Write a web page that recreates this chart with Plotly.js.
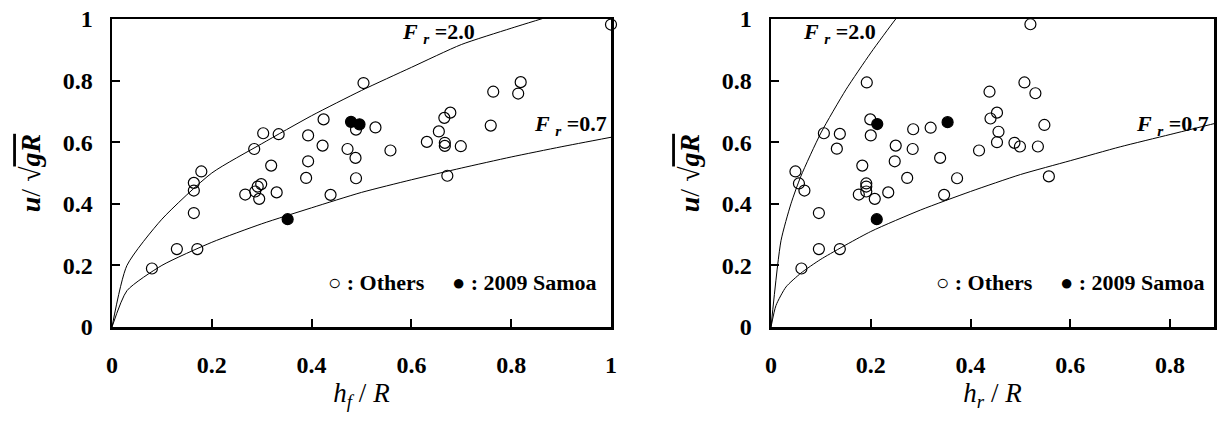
<!DOCTYPE html>
<html>
<head>
<meta charset="utf-8">
<script src="https://cdn.plot.ly/plotly-3.0.1.min.js"></script>
<style>html,body{margin:0;padding:0;background:#fff;overflow:hidden;}#chart{width:1221px;height:421px;overflow:hidden;}</style>
</head>
<body>
<div id="chart"></div>
<script>
// ---- data ----
const leftOthersX = [0.080,0.130,0.171,0.164,0.164,0.164,0.179,0.267,0.287,0.292,0.299,0.295,0.285,0.303,0.334,0.319,0.330,0.393,0.393,0.389,0.424,0.422,0.438,0.472,0.488,0.489,0.489,0.504,0.528,0.558,0.631,0.655,0.666,0.678,0.667,0.667,0.699,0.672,0.759,0.764,0.814,0.819,1.000];
const leftOthersY = [0.190,0.253,0.253,0.370,0.443,0.468,0.505,0.430,0.440,0.456,0.464,0.416,0.578,0.629,0.626,0.524,0.437,0.622,0.538,0.484,0.674,0.589,0.429,0.578,0.549,0.483,0.641,0.792,0.648,0.573,0.601,0.635,0.679,0.696,0.598,0.588,0.587,0.491,0.654,0.764,0.758,0.795,0.982];
const leftSamoaX = [0.479,0.496,0.352];
const leftSamoaY = [0.666,0.658,0.350];

const rightOthersX = [0.061,0.049,0.056,0.067,0.096,0.096,0.138,0.106,0.138,0.132,0.192,0.199,0.200,0.183,0.176,0.191,0.191,0.191,0.208,0.235,0.248,0.250,0.273,0.285,0.284,0.320,0.339,0.347,0.373,0.417,0.438,0.440,0.453,0.456,0.453,0.488,0.499,0.508,0.520,0.530,0.535,0.548,0.557];
const rightOthersY = [0.190,0.505,0.466,0.443,0.370,0.253,0.253,0.629,0.627,0.579,0.794,0.674,0.622,0.524,0.430,0.466,0.456,0.440,0.416,0.437,0.538,0.589,0.484,0.642,0.578,0.647,0.549,0.429,0.483,0.573,0.764,0.677,0.696,0.634,0.600,0.598,0.586,0.794,0.983,0.759,0.586,0.656,0.489];
const rightSamoaX = [0.213,0.354,0.212];
const rightSamoaY = [0.659,0.665,0.350];

const fr20LeftX = [0,0.03,0.1,0.2,0.3,0.4,0.5,0.6,0.7,0.8,0.9];
const fr20LeftY = [0,0.20,0.35,0.50,0.595,0.686,0.768,0.843,0.917,0.97,1.02];
const fr07LeftX = [0,0.03,0.1,0.2,0.3,0.4,0.5,0.6,0.7,0.8,0.9,1.0];
const fr07LeftY = [0,0.118,0.20,0.275,0.335,0.387,0.437,0.478,0.516,0.552,0.585,0.616];

const fr20RightX = [0,0.02,0.04,0.06,0.1,0.15,0.2,0.25,0.3];
const fr20RightY = [0,0.28,0.40,0.49,0.63,0.77,0.89,1.0,1.1];
const fr07RightX = [0,0.01,0.03,0.06,0.1,0.2,0.3,0.4,0.5,0.6,0.7,0.8,0.9];
const fr07RightY = [0,0.07,0.13,0.175,0.22,0.31,0.38,0.44,0.495,0.54,0.585,0.625,0.665];

const legendText = '○ : Others     ● : 2009 Samoa';
const fr20Label = '<i>F</i> <sub><i>r</i></sub> =2.0';
const fr07Label = '<i>F</i> <sub><i>r</i></sub> =0.7';
const yTitle = '<b><i>u</i></b>/ √<span style="text-decoration:overline"><b><i>gR</i></b></span>';
const xTitleLeft = '<i>h</i><sub><i>f</i></sub> / <i>R</i>';
const xTitleRight = '<i>h</i><sub><i>r</i></sub> / <i>R</i>';

// ---- chart ----
const SERIF = '"Liberation Serif", "Times New Roman", serif';
function curve(x, y, xa, ya) {
  return {x: x, y: y, xaxis: xa, yaxis: ya, type: 'scatter', mode: 'lines',
    line: {color: '#000', width: 1, shape: 'spline', smoothing: 0.6}, hoverinfo: 'skip', showlegend: false};
}
function pts(x, y, xa, ya, filled) {
  return {x: x, y: y, xaxis: xa, yaxis: ya, type: 'scatter', mode: 'markers', cliponaxis: false,
    marker: {symbol: filled ? 'circle' : 'circle-open', size: 11, color: '#000', line: {color: '#000', width: 1.2}},
    showlegend: false};
}
const traces = [
  curve(fr20LeftX, fr20LeftY, 'x', 'y'),
  curve(fr07LeftX, fr07LeftY, 'x', 'y'),
  pts(leftOthersX, leftOthersY, 'x', 'y', false),
  pts(leftSamoaX, leftSamoaY, 'x', 'y', true),
  curve(fr20RightX, fr20RightY, 'x2', 'y2'),
  curve(fr07RightX, fr07RightY, 'x2', 'y2'),
  pts(rightOthersX, rightOthersY, 'x2', 'y2', false),
  pts(rightSamoaX, rightSamoaY, 'x2', 'y2', true)
];

const tickFont = {family: SERIF, size: 24, color: '#000', weight: 'bold'};
function xaxis(domain, range, title, anchor) {
  return {domain: domain, range: range, anchor: anchor, dtick: 0.2, tick0: 0,
    ticks: 'inside', ticklen: 8, tickwidth: 2, tickcolor: '#000',
    showline: true, mirror: true, linecolor: '#000', linewidth: 2.5, showgrid: false, zeroline: false,
    tickfont: tickFont, ticklabelstandoff: 15, automargin: false,
    title: {text: title, font: {family: SERIF, size: 27, color: '#000'}, standoff: 6}};
}
function yaxis(domain, title, anchor) {
  return {domain: domain, range: [0, 1], anchor: anchor, dtick: 0.2, tick0: 0,
    ticks: 'inside', ticklen: 8, tickwidth: 2, tickcolor: '#000',
    showline: true, mirror: true, linecolor: '#000', linewidth: 2.5, showgrid: false, zeroline: false,
    tickfont: tickFont, ticklabelstandoff: 12, automargin: false,
    title: {text: title, font: {family: SERIF, size: 28, color: '#000'}, standoff: 14}};
}
const yDom = [94/421, 402/421];
const layout = {
  width: 1221, height: 421,
  margin: {l: 0, r: 0, t: 0, b: 0},
  paper_bgcolor: '#fff', plot_bgcolor: '#fff',
  showlegend: false,
  xaxis: xaxis([112/1221, 611/1221], [0, 1], xTitleLeft, 'y'),
  yaxis: yaxis(yDom, yTitle, 'x'),
  xaxis2: xaxis([771/1221, 1214/1221], [0, 0.888], xTitleRight, 'y2'),
  yaxis2: yaxis(yDom, yTitle, 'x2'),
  annotations: [
    {xref: 'x', yref: 'y', x: 0.655, y: 0.955, text: fr20Label, showarrow: false, font: {family: SERIF, size: 22, color: '#000', weight: 'bold'}},
    {xref: 'x', yref: 'y', x: 0.918, y: 0.656, text: fr07Label, showarrow: false, font: {family: SERIF, size: 22, color: '#000', weight: 'bold'}},
    {xref: 'x', yref: 'y', x: 0.703, y: 0.146, text: legendText, showarrow: false, font: {family: SERIF, size: 22, color: '#000', weight: 'bold'}},
    {xref: 'x2', yref: 'y2', x: 0.138, y: 0.955, text: fr20Label, showarrow: false, font: {family: SERIF, size: 22, color: '#000', weight: 'bold'}},
    {xref: 'x2', yref: 'y2', x: 0.805, y: 0.656, text: fr07Label, showarrow: false, font: {family: SERIF, size: 22, color: '#000', weight: 'bold'}},
    {xref: 'x2', yref: 'y2', x: 0.601, y: 0.146, text: legendText, showarrow: false, font: {family: SERIF, size: 22, color: '#000', weight: 'bold'}}
  ]
};
Plotly.newPlot('chart', traces, layout, {staticPlot: true, displayModeBar: false});
</script>
</body>
</html>
